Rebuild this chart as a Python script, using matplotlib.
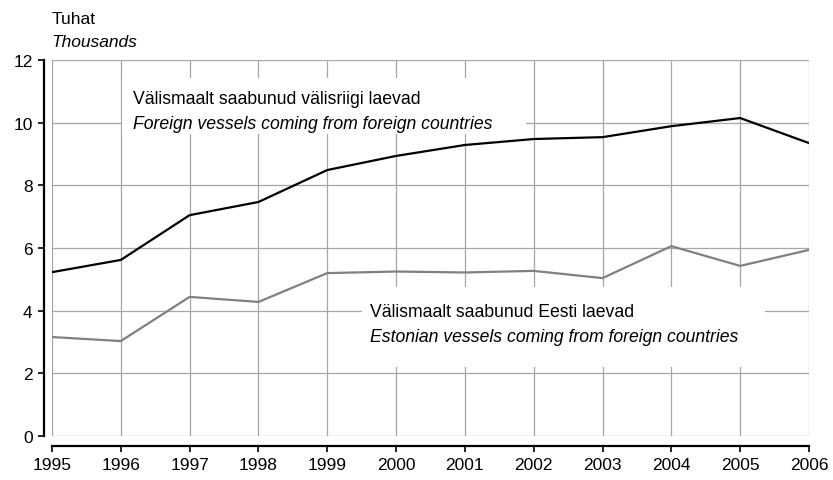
import matplotlib.pyplot as plt
from matplotlib.patches import Rectangle

plt.rcParams['font.family'] = ['Liberation Sans', 'DejaVu Sans']

years = list(range(1995, 2007))
foreign_vessels = [5.23, 5.62, 7.05, 7.47, 8.49, 8.94, 9.29, 9.48, 9.54, 9.89, 10.15, 9.35]
estonian_vessels = [3.16, 3.03, 4.44, 4.28, 5.20, 5.25, 5.22, 5.27, 5.04, 6.06, 5.43, 5.94]
y_ticks = [0, 2, 4, 6, 8, 10, 12]

fig = plt.figure(figsize=(8.33, 4.81), dpi=100)
ax = fig.add_axes([0.0624, 0.0915, 0.9088, 0.7815])

ax.plot(years, foreign_vessels, color='black', lw=1.6, zorder=3, solid_joinstyle='miter')
ax.plot(years, estonian_vessels, color='#808080', lw=1.6, zorder=3, solid_joinstyle='miter')

ax.set_xlim(1995, 2006)
ax.set_ylim(0, 12)
ax.set_xticks(years)
ax.set_yticks(y_ticks)
ax.grid(True, color='#a6a6a6', lw=0.9)
ax.set_axisbelow(True)

for s in ['top', 'right']:
    ax.spines[s].set_visible(False)
ax.spines['left'].set_position(('outward', 6))
ax.spines['bottom'].set_position(('outward', 7))
ax.spines['left'].set_linewidth(1.6)
ax.spines['bottom'].set_linewidth(1.6)
ax.spines['left'].set_bounds(0, 12)
ax.spines['bottom'].set_bounds(1995, 2006)
ax.tick_params(length=4, width=1.2, labelsize=12.5, direction='out', pad=4)

# white label areas that break the grid
ax.add_patch(Rectangle((1996.02, 9.64), 5.87, 1.79, facecolor='white', edgecolor='none', zorder=1.5))
ax.add_patch(Rectangle((1999.5, 2.2), 5.86, 2.56, facecolor='white', edgecolor='none', zorder=1.5))

ax.text(1996.18, 10.76, 'Välismaalt saabunud välisriigi laevad', fontsize=12.7,
        va='center', ha='left', zorder=2)
ax.text(1996.18, 9.96, 'Foreign vessels coming from foreign countries', fontsize=12.7,
        style='italic', va='center', ha='left', zorder=2)
ax.text(1999.62, 3.96, 'Välismaalt saabunud Eesti laevad', fontsize=12.7,
        va='center', ha='left', zorder=2)
ax.text(1999.62, 3.19, 'Estonian vessels coming from foreign countries', fontsize=12.7,
        style='italic', va='center', ha='left', zorder=2)

fig.text(0.062, 0.96, 'Tuhat', fontsize=12.5, va='center', ha='left')
fig.text(0.062, 0.911, 'Thousands', fontsize=12.5, style='italic', va='center', ha='left')

fig.savefig('out.png', dpi=100)
